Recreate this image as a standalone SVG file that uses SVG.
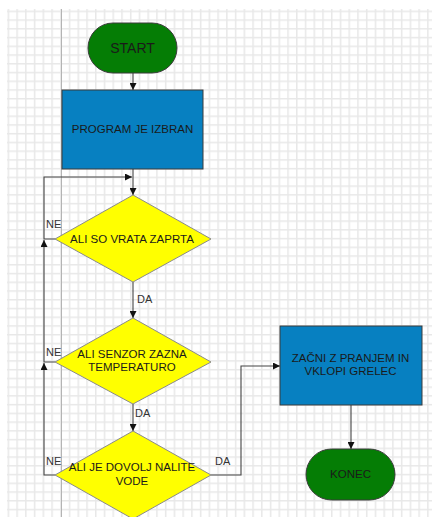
<svg xmlns="http://www.w3.org/2000/svg" width="432" height="517" viewBox="0 0 432 517">
<defs>
<pattern id="grid" x="7.6" y="10.6" width="8.74" height="8.74" patternUnits="userSpaceOnUse">
<path d="M0.75,0 V8.74 M0,0.75 H8.74" fill="none" stroke="#e8e8e8" stroke-width="1.5"/>
</pattern>
<marker id="arr" viewBox="0 0 10 10" refX="10" refY="5" markerWidth="7" markerHeight="7" markerUnits="userSpaceOnUse" orient="auto">
<path d="M0,0 L10,5 L0,10 Z" fill="#111"/>
</marker>
<style>
text{font-family:"Liberation Sans",Arial,sans-serif;fill:#1a1a1a;text-anchor:middle}
.lbl{font-size:11px;fill:#333;text-anchor:start}
.t{font-size:11.5px}
.term{fill:#057d05;stroke:#3a3a3a;stroke-width:1}
.proc{fill:#0780c1;stroke:#3a3a3a;stroke-width:1}
.dec{fill:#ffff00;stroke:#8a8a8a;stroke-width:1}
.con{fill:none;stroke:#444;stroke-width:1.1}
</style>
</defs>
<rect x="0" y="0" width="432" height="517" fill="#fff"/>
<rect x="7" y="9" width="425" height="508" fill="url(#grid)"/>
<line x1="61.5" y1="9" x2="61.5" y2="517" stroke="#b4b4b4" stroke-width="1"/>

<g id="connectors">
<path class="con" d="M133,73 V90" marker-end="url(#arr)"/>
<path class="con" d="M133,169 V195" marker-end="url(#arr)"/>
<path class="con" d="M55,239 H44 V177 H132" marker-end="url(#arr)"/>
<path class="con" d="M133,282 V318" marker-end="url(#arr)"/>
<path class="con" d="M55,362 H44 V240" marker-end="url(#arr)"/>
<path class="con" d="M133,404 V431" marker-end="url(#arr)"/>
<path class="con" d="M55,475 H44 V363" marker-end="url(#arr)"/>
<path class="con" d="M211,475 H241 V366 H280" marker-end="url(#arr)"/>
<path class="con" d="M351,405 V449" marker-end="url(#arr)"/>
<text class="lbl" x="46" y="228">NE</text>
<text class="lbl" x="137" y="303">DA</text>
<text class="lbl" x="46" y="355.5">NE</text>
<text class="lbl" x="135" y="416.5">DA</text>
<text class="lbl" x="46" y="464.5">NE</text>
<text class="lbl" x="215" y="464.5">DA</text>
</g>

<g id="start">
<rect class="term" x="88" y="23" width="89" height="50" rx="25" ry="25"/>
<text x="132.5" y="53" style="font-size:14px">START</text>
</g>

<g id="program">
<rect class="proc" x="62" y="90" width="141" height="79"/>
<text class="t" x="132.5" y="133">PROGRAM JE IZBRAN</text>
</g>

<g id="d1">
<polygon class="dec" points="133,195 211,239 133,282 55,239"/>
<text class="t" x="132" y="243">ALI SO VRATA ZAPRTA</text>
</g>

<g id="d2">
<polygon class="dec" points="133,318 211,362 133,404 55,362"/>
<text class="t" x="132" y="358">ALI SENZOR ZAZNA</text>
<text class="t" x="132" y="370.5">TEMPERATURO</text>
</g>

<g id="d3">
<polygon class="dec" points="133,431 211,475 133,519 55,475"/>
<text class="t" x="132" y="471">ALI JE DOVOLJ NALITE</text>
<text class="t" x="132" y="484.5">VODE</text>
</g>

<g id="zacni">
<rect class="proc" x="280" y="326" width="142" height="79"/>
<text class="t" x="350.5" y="362">ZAČNI Z PRANJEM IN</text>
<text class="t" x="350.5" y="375">VKLOPI GRELEC</text>
</g>

<g id="konec">
<rect class="term" x="306" y="449" width="89" height="51" rx="25.5" ry="25.5"/>
<text class="t" x="350.5" y="478">KONEC</text>
</g>
</svg>
